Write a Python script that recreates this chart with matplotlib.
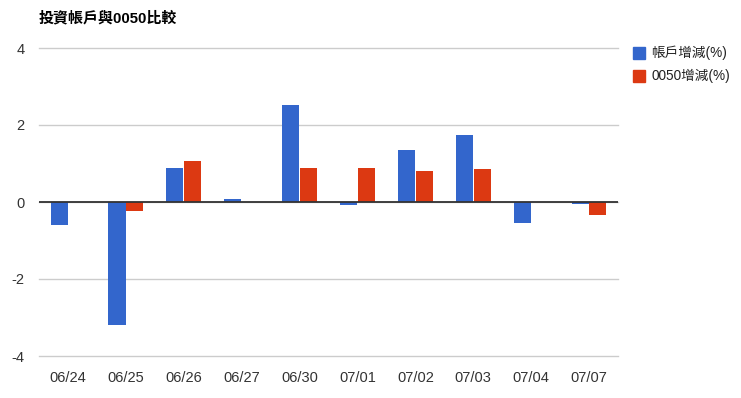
import matplotlib
matplotlib.use("Agg")
import matplotlib.pyplot as plt
import numpy as np
from matplotlib.patches import Rectangle

plt.rcParams["font.family"] = ["Liberation Sans", "Noto Sans CJK TC", "DejaVu Sans"]

dates = ["06/24", "06/25", "06/26", "06/27", "06/30",
         "07/01", "07/02", "07/03", "07/04", "07/07"]
accounts = [-0.59, -3.19, 0.89, 0.09, 2.53, -0.07, 1.36, 1.75, -0.54, -0.05]
etf0050 = [0.0, -0.23, 1.07, 0.0, 0.89, 0.89, 0.81, 0.87, 0.0, -0.35]

blue = "#3366cc"
red = "#dc3912"

fig = plt.figure(figsize=(7.41, 3.98), dpi=100)
ax = fig.add_axes([39 / 741, 42 / 398, 579 / 741, 308 / 398])

x = np.arange(len(dates))
w = 0.295
ax.bar(x - w / 2 - 0.005, accounts, width=w, color=blue, zorder=3)
ax.bar(x + w / 2 + 0.005, etf0050, width=w, color=red, zorder=3)

ax.set_xlim(-0.5, len(dates) - 0.5)
ax.set_ylim(-4, 4)
ax.set_yticks([-4, -2, 0, 2, 4])
ax.set_yticklabels(["-4", "-2", "0", "2", "4"])
ax.set_xticks(x)
ax.set_xticklabels(dates)
ax.grid(axis="y", color="#cccccc", linewidth=1, zorder=0)
for gl in ax.get_ygridlines():
    gl.set_clip_on(False)
ax.axhline(0, color="#333333", linewidth=1.3, zorder=4)
for s in ax.spines.values():
    s.set_visible(False)
ax.tick_params(length=0, labelsize=10.5, colors="#333333")
ax.tick_params(axis="y", pad=10.5)
ax.tick_params(axis="x", pad=11)
for lbl in ax.get_yticklabels():
    lbl.set_horizontalalignment("right")

fig.text(39 / 741, 1 - 18 / 398, "投資帳戶與0050比較", fontsize=10.8,
         fontweight="bold", va="center", ha="left", color="#000000")

# legend
for i, (lab, c) in enumerate([("帳戶增減(%)", blue), ("0050增減(%)", red)]):
    yc = 53 + i * 23
    fig.patches.append(Rectangle((633 / 741, 1 - (yc + 6) / 398), 12 / 741, 12 / 398,
                                 transform=fig.transFigure, color=c))
    fig.text(651 / 741, 1 - yc / 398, lab, fontsize=9.8, va="center", ha="left",
             color="#222222")

fig.savefig("out.png", dpi=100, facecolor="white")
